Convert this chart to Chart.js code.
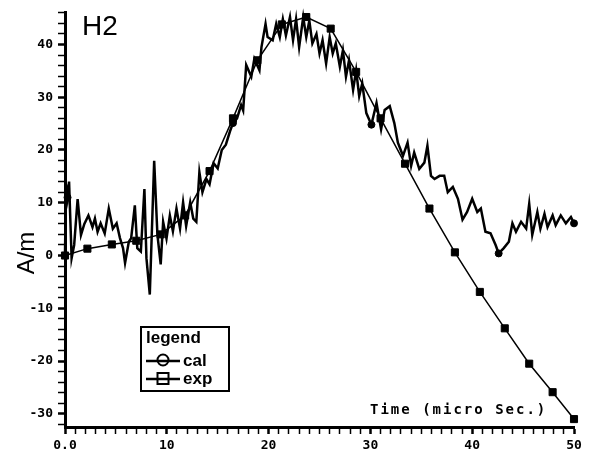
<!DOCTYPE html>
<html><head><meta charset="utf-8">
<script src="https://cdn.jsdelivr.net/npm/chart.js@4.4.1/dist/chart.umd.min.js"></script>
<style>html,body{margin:0;padding:0;background:#fff}#wrap{position:relative;width:590px;height:459px}</style>
</head><body><div id="wrap"><canvas id="c" width="590" height="459"></canvas></div>
<script>
// smooth series (square markers, legend "exp")
const expX = [0, 2.2, 4.6, 7.0, 9.4, 11.8, 14.2, 16.5, 18.9, 21.3, 23.7, 26.1, 28.6, 31.0, 33.4, 35.8, 38.3, 40.75, 43.2, 45.6, 47.9, 50.0];
const expY = [0, 1.3, 2.1, 2.8, 4.0, 7.6, 16.0, 26.0, 37.0, 43.8, 45.2, 43.0, 34.8, 26.0, 17.4, 8.9, 0.6, -6.9, -13.8, -20.5, -25.9, -31.0];

// noisy series (circle markers, legend "cal")
const calX = [0.0, 0.1, 0.25, 0.4, 0.65, 0.9, 1.24, 1.57, 1.9, 2.3, 2.7, 2.94, 3.2, 3.5, 3.9, 4.3, 4.7, 5.07, 5.4, 5.7, 5.9, 6.27, 6.5, 6.86, 7.1, 7.45, 7.8, 8.0, 8.33, 8.76, 9.08, 9.4, 9.64, 9.97, 10.3, 10.6, 10.95, 11.3, 11.6, 11.9, 12.3, 12.6, 12.9, 13.2, 13.5, 13.9, 14.2, 14.6, 15.0, 15.4, 15.8, 16.2, 16.5, 16.9, 17.3, 17.5, 17.8, 18.3, 18.6, 19.1, 19.3, 19.7, 19.9, 20.4, 20.75, 21.1, 21.4, 21.7, 22.1, 22.4, 22.7, 23.0, 23.4, 23.7, 24.0, 24.3, 24.7, 25.0, 25.3, 25.65, 26.0, 26.3, 26.6, 27.0, 27.3, 27.6, 27.9, 28.3, 28.6, 28.9, 29.2, 29.6, 30.1, 30.6, 31.05, 31.4, 31.9, 32.35, 32.7, 33.2, 33.65, 34.0, 34.3, 34.8, 35.3, 35.6, 35.95, 36.3, 36.8, 37.25, 37.6, 38.1, 38.6, 39.05, 39.5, 40.0, 40.5, 40.85, 41.3, 41.8, 42.3, 42.6, 43.1, 43.6, 43.95, 44.3, 44.8, 45.3, 45.6, 45.9, 46.4, 46.7, 47.1, 47.4, 47.9, 48.2, 48.7, 49.2, 49.7, 50.0];
const calY = [0.5, 13.5, 11.0, 14.0, -0.5, 2.0, 10.7, 3.9, 6.0, 7.6, 5.4, 7.0, 4.5, 6.1, 4.2, 8.9, 5.1, 6.1, 3.3, 1.4, -1.4, 2.6, 3.3, 9.5, 1.4, 0.75, 12.6, -0.5, -7.4, 17.95, 3.9, -1.7, 6.4, 3.2, 7.6, 4.6, 8.9, 5.1, 10.1, 5.6, 10.1, 7.0, 6.4, 15.8, 12.0, 14.5, 13.5, 17.5, 16.5, 20.0, 21.0, 23.5, 25.1, 26.0, 28.5, 27.5, 36.1, 33.9, 37.3, 35.1, 39.5, 43.9, 41.4, 40.8, 43.9, 41.4, 44.8, 41.7, 45.2, 40.8, 44.8, 39.5, 45.2, 41.4, 44.5, 40.2, 42.0, 38.3, 40.8, 36.4, 41.4, 38.3, 40.2, 35.8, 38.9, 33.9, 37.0, 31.4, 35.1, 30.2, 32.6, 27.0, 24.8, 28.9, 23.9, 27.6, 28.3, 25.1, 21.4, 18.9, 21.4, 17.0, 19.5, 16.4, 17.6, 20.8, 15.1, 14.5, 15.1, 15.1, 12.0, 13.0, 10.75, 6.8, 8.25, 10.75, 8.25, 8.9, 4.5, 4.2, 2.0, 0.4, 1.4, 2.6, 6.1, 4.5, 6.4, 5.1, 9.8, 3.9, 8.25, 5.1, 7.9, 5.4, 7.6, 5.75, 7.6, 6.1, 7.3, 6.1];
const calMarkerX = [0.25, 16.5, 30.1, 42.6, 50.0];

const xTickValues = [0, 10, 20, 30, 40, 50];
const xTickLabels = ['0.0', '10', '20', '30', '40', '50'];
const yTickValues = [-30, -20, -10, 0, 10, 20, 30, 40];

const tickFont = {family: '"DejaVu Sans Mono", monospace', size: 13, weight: 'bold'};

const textPlugin = {
  id: 'texts',
  afterDraw(chart) {
    const c = chart.ctx;
    c.save();
    c.fillStyle = '#000';
    c.strokeStyle = '#000';
    // H2
    c.font = '28px "Liberation Sans", Arial, sans-serif';
    c.textAlign = 'left'; c.textBaseline = 'alphabetic';
    c.fillText('H2', 82, 35);
    // A/m
    c.save();
    c.translate(27, 253);
    c.rotate(-Math.PI / 2);
    c.font = '24px "Liberation Sans", Arial, sans-serif';
    c.textAlign = 'center'; c.textBaseline = 'middle';
    c.fillText('A/m', 0, 0);
    c.restore();
    // x title inside plot
    c.font = 'bold 14px "DejaVu Sans Mono", monospace';
    try { c.letterSpacing = '2px'; } catch (e) {}
    c.textAlign = 'left'; c.textBaseline = 'middle';
    c.fillText('Time (micro Sec.)', 370, 410);
    try { c.letterSpacing = '0px'; } catch (e) {}
    // legend box
    c.lineWidth = 2;
    c.strokeRect(141, 327, 88, 64);
    c.font = 'bold 17px "Liberation Sans", Arial, sans-serif';
    c.textBaseline = 'alphabetic';
    c.fillText('legend', 146, 343);
    // cal row
    c.lineWidth = 2.5;
    c.beginPath(); c.moveTo(146, 361); c.lineTo(180, 361); c.stroke();
    c.lineWidth = 2;
    c.beginPath(); c.arc(163, 360, 5.5, 0, Math.PI * 2); c.stroke();
    c.fillText('cal', 183, 366);
    // exp row
    c.lineWidth = 2.5;
    c.beginPath(); c.moveTo(146, 379); c.lineTo(180, 379); c.stroke();
    c.lineWidth = 2;
    c.strokeRect(157.5, 373, 11, 11);
    c.fillText('exp', 183, 384);
    c.restore();
  }
};

new Chart(document.getElementById('c'), {
  type: 'line',
  data: {
    datasets: [
      {
        label: 'cal',
        data: calX.map((x, i) => ({x: x, y: calY[i]})),
        borderColor: '#000', borderWidth: 2.5, tension: 0,
        pointStyle: 'circle',
        pointRadius: (ctx) => calMarkerX.includes(calX[ctx.dataIndex]) ? 3.5 : 0,
        pointBackgroundColor: '#000', pointBorderColor: '#000', pointBorderWidth: 1,
        clip: false
      },
      {
        label: 'exp',
        data: expX.map((x, i) => ({x: x, y: expY[i]})),
        borderColor: '#000', borderWidth: 1.5, tension: 0,
        pointStyle: 'rect', pointRadius: 5,
        pointBackgroundColor: '#000', pointBorderColor: '#000', pointBorderWidth: 1,
        clip: false
      }
    ]
  },
  options: {
    responsive: false,
    animation: false,
    layout: {padding: {top: 10, right: 16, left: 0, bottom: 0}},
    plugins: {legend: {display: false}, tooltip: {enabled: false}, title: {display: false}},
    scales: {
      x: {
        type: 'linear', min: 0, max: 50,
        afterBuildTicks: (s) => { const t = []; for (let v = 0; v <= 50; v++) t.push({value: v}); s.ticks = t; },
        afterFit: (s) => { s.height = 32; },
        ticks: {
          autoSkip: false, maxRotation: 0, padding: 4, color: '#000', font: tickFont,
          callback: (v) => { const k = xTickValues.indexOf(v); return k >= 0 ? xTickLabels[k] : ''; }
        },
        grid: {
          drawOnChartArea: false, drawTicks: true, tickLength: 7, tickColor: '#000',
          tickWidth: (ctx) => (ctx.tick && xTickValues.includes(ctx.tick.value)) ? 2.5 : 1.5
        },
        border: {display: true, color: '#000', width: 3}
      },
      y: {
        type: 'linear', min: -32.5, max: 46,
        afterBuildTicks: (s) => { const t = []; for (let v = -32; v <= 46; v += 2) t.push({value: v}); s.ticks = t; },
        afterFit: (s) => { s.width = 65; },
        ticks: {
          autoSkip: false, padding: 5, color: '#000', font: tickFont,
          callback: (v) => yTickValues.includes(v) ? String(v) : ''
        },
        grid: {
          drawOnChartArea: false, drawTicks: true, tickLength: 7, tickColor: '#000',
          tickWidth: (ctx) => (ctx.tick && yTickValues.includes(ctx.tick.value)) ? 2.5 : 1.5
        },
        border: {display: true, color: '#000', width: 3}
      }
    }
  },
  plugins: [textPlugin]
});
</script>
</body></html>
